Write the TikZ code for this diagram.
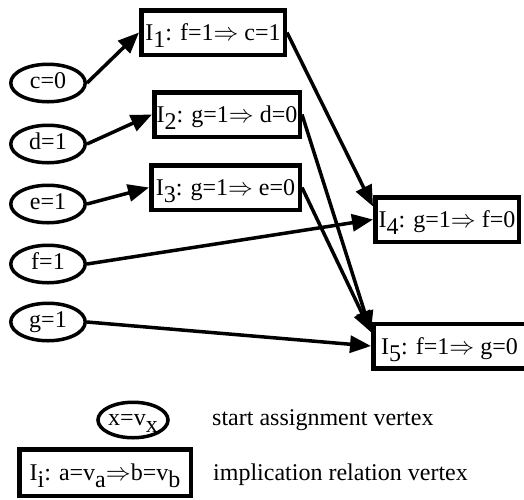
\documentclass[tikz,border=0pt]{standalone}
\usepackage{fontspec}
\setmainfont{Liberation Serif}
\usetikzlibrary{shapes.geometric,arrows.meta}
% full-size, lowered index as in "I_1", "v_a"
\newcommand{\lowsub}[1]{\raisebox{-0.3em}{#1}}

\begin{document}
\begin{tikzpicture}[x=1pt,y=-1pt,
  every node/.style={font=\fontsize{24}{28}\selectfont, inner sep=0pt},
  assign/.style={draw, ellipse, line width=3.5pt, minimum width=74.5pt,
    minimum height=37.5pt, text height=11pt, text depth=1pt},
  impl/.style={draw, rectangle, line width=4.5pt, minimum height=44.5pt,
    text height=18pt, text depth=2pt},
  link/.style={line width=3.5pt, -{Triangle[length=21pt,width=17pt]}},
  caption/.style={anchor=base west}
]
\useasboundingbox (0,0) rectangle (524,499);

% start assignment vertices
\node[assign] (c0) at (48,83)  {c=0};
\node[assign] (d1) at (48,144) {d=1};
\node[assign] (e1) at (48,204) {e=1};
\node[assign] (f1) at (48,264) {f=1};
\node[assign] (g1) at (48,322) {g=1};

% implication relation vertices
\node[impl, minimum width=143.5pt] (I1) at (213,32.5)
  {I\lowsub{1}: f=1$\Rightarrow$ c=1};
\node[impl, minimum width=145.5pt] (I2) at (227,114.5)
  {I\lowsub{2}: g=1$\Rightarrow$ d=0};
\node[impl, minimum width=148.5pt] (I3) at (225.5,187.5)
  {I\lowsub{3}: g=1$\Rightarrow$ e=0};
\node[impl, minimum width=143.5pt] (I4) at (447,219.5)
  {I\lowsub{4}: g=1$\Rightarrow$ f=0};
\node[impl, minimum width=152.5pt] (I5) at (449.5,346)
  {I\lowsub{5}: f=1$\Rightarrow$ g=0};

% edges
\draw[link] (c0.east) -- (I1.west);
\draw[link] (d1.east) -- (I2.west);
\draw[link] (e1.east) -- (I3.west);
\draw[link] (f1.east) -- (I4.west);
\draw[link] (g1.east) -- (I5.west);
\draw[link] (I1.east) -- (I4.170);
\draw[link] (I2.east) -- (I5.170);
\draw[link] (I3.east) -- (I5.170);

% legend
\node[assign, minimum width=69.5pt, minimum height=35.5pt] (kx) at (133,420)
  {x=v\lowsub{x}};
\node[caption] (kxt) at (212,425) {start assignment vertex};
\node[impl, minimum width=171.5pt, minimum height=46.5pt] (ki) at (105,472.5)
  {I\lowsub{i}: a=v\lowsub{a}$\Rightarrow$b=v\lowsub{b}};
\node[caption] (kit) at (213,480) {implication relation vertex};
\end{tikzpicture}
\end{document}
